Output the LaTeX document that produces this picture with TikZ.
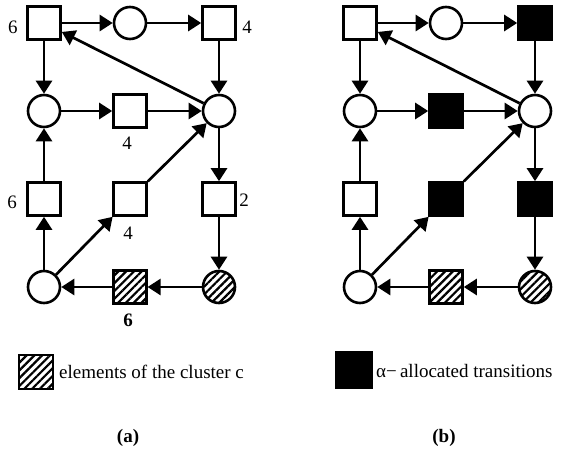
\documentclass[tikz,border=0pt]{standalone}
\usepackage{fontspec}
\setmainfont{Liberation Serif}
\usetikzlibrary{arrows.meta,patterns.meta}

\tikzset{
  trans/.style={draw, line width=2.6pt, minimum size=33pt, inner sep=0pt, fill=white},
  place/.style={draw, circle, line width=2.6pt, minimum size=32pt, inner sep=0pt, fill=white},
  alloc/.style={trans, fill=black},
  hatched/.style={pattern={Lines[angle=45,distance=5.5pt,line width=2.2pt]}},
  arc/.style={line width=2.7pt, -{Triangle[length=13pt,width=16pt]}},
  num/.style={inner sep=0pt, font=\fontsize{19}{21}\selectfont},
  legend/.style={inner sep=0pt, anchor=west, font=\fontsize{19}{22}\selectfont},
  caption/.style={inner sep=0pt, font=\fontsize{19}{22}\selectfont\bfseries},
}

\begin{document}
\begin{tikzpicture}[x=1pt, y=-1pt]
  \useasboundingbox[fill=white] (0,0) rectangle (564,452);

  % ---- net (a): weighted transitions ----
  \node[trans]          (a-t1) at (44,23)  {};
  \node[place]          (a-p1) at (130,23) {};
  \node[trans]          (a-t2) at (219,23) {};
  \node[place]          (a-p2) at (44,111) {};
  \node[trans]          (a-t3) at (130,111) {};
  \node[place]          (a-p3) at (219,111) {};
  \node[trans]          (a-t4) at (44,199) {};
  \node[trans]          (a-t5) at (130,199) {};
  \node[trans]          (a-t6) at (219,199) {};
  \node[place]          (a-p4) at (44,287) {};
  \node[trans, hatched] (a-t7) at (130,287) {};
  \node[place, hatched] (a-p5) at (219,287) {};

  \node[num] (w1) at (13,27)  {6};
  \node[num] (w2) at (247,27) {4};
  \node[num] (w3) at (127,143) {4};
  \node[num] (w4) at (12,202) {6};
  \node[num] (w5) at (128,233) {4};
  \node[num] (w6) at (244,200) {2};
  \node[num, font=\fontsize{19}{21}\selectfont\bfseries] (w7) at (128,320) {6};

  % ---- net (b): allocated transitions ----
  \node[trans]          (b-t1) at (360,23)  {};
  \node[place]          (b-p1) at (446,23) {};
  \node[alloc]          (b-t2) at (535,23) {};
  \node[place]          (b-p2) at (360,111) {};
  \node[alloc]          (b-t3) at (446,111) {};
  \node[place]          (b-p3) at (535,111) {};
  \node[trans]          (b-t4) at (360,199) {};
  \node[alloc]          (b-t5) at (446,199) {};
  \node[alloc]          (b-t6) at (535,199) {};
  \node[place]          (b-p4) at (360,287) {};
  \node[trans, hatched] (b-t7) at (446,287) {};
  \node[place, hatched] (b-p5) at (535,287) {};

  % ---- arcs, identical in both nets ----
  \foreach \n in {a,b} {
    \draw[arc] (\n-t1) -- (\n-p1);
    \draw[arc] (\n-p1) -- (\n-t2);
    \draw[arc] (\n-t2) -- (\n-p3);
    \draw[arc] (\n-p3) -- (\n-t1);
    \draw[arc] (\n-t1) -- (\n-p2);
    \draw[arc] (\n-p2) -- (\n-t3);
    \draw[arc] (\n-t3) -- (\n-p3);
    \draw[arc] (\n-p3) -- (\n-t6);
    \draw[arc] (\n-t6) -- (\n-p5);
    \draw[arc] (\n-p5) -- (\n-t7);
    \draw[arc] (\n-t7) -- (\n-p4);
    \draw[arc] (\n-p4) -- (\n-t4);
    \draw[arc] (\n-t4) -- (\n-p2);
    \draw[arc] (\n-p4) -- (\n-t5);
    \draw[arc] (\n-t5) -- (\n-p3);
  }

  % ---- legends ----
  \node[trans, hatched, minimum size=34pt] (key-a) at (36,372) {};
  \node[legend] (key-a-text) at (59,372) {elements of the cluster c};
  \node[alloc, minimum size=35pt] (key-b) at (354,370) {};
  \node[legend] (key-b-text) at (376,371) {α−\,allocated transitions};

  % ---- captions ----
  \node[caption] (cap-a) at (128,438) {(a)};
  \node[caption] (cap-b) at (444,438) {(b)};
\end{tikzpicture}
\end{document}
